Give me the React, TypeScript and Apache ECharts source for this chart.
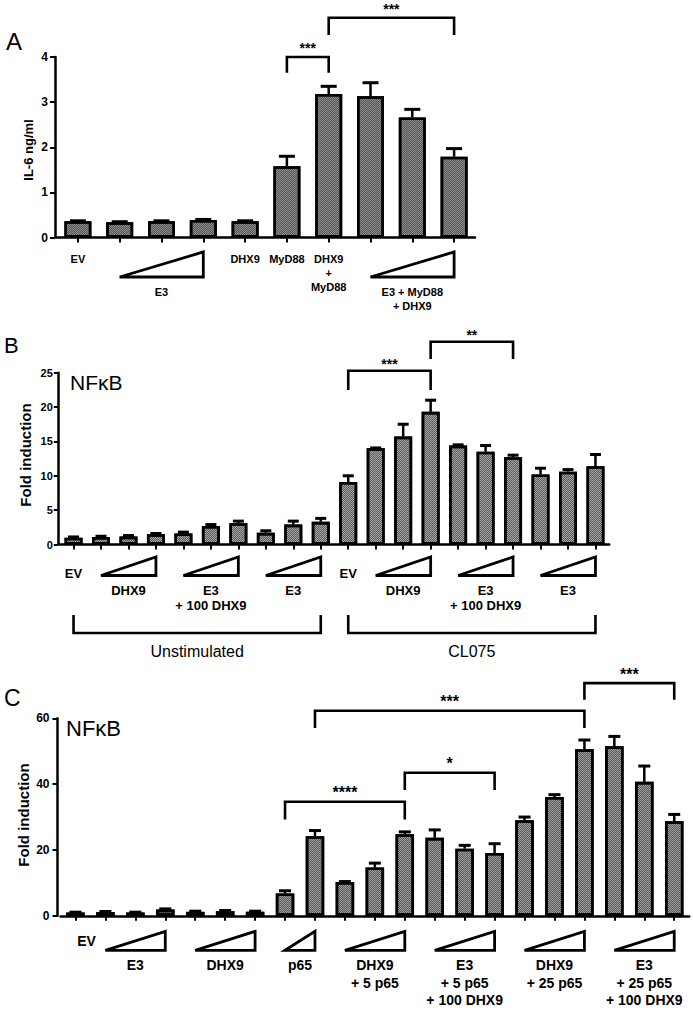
import React, { useEffect, useRef } from "react";
import * as echarts from "echarts";

const FONT = '"Liberation Sans", Arial, Helvetica, sans-serif';

type Group = { label: string[]; from: number; to: number };
type Bracket = { from: number; to: number; stars: string };

// ---------- Panel A : IL-6 ----------
const aCategories = [
  "EV", "E3 low", "E3 mid", "E3 high", "DHX9", "MyD88", "DHX9 + MyD88",
  "E3 low + MyD88 + DHX9", "E3 mid + MyD88 + DHX9", "E3 high + MyD88 + DHX9",
];
const aValues = [0.36, 0.34, 0.36, 0.39, 0.36, 1.58, 3.18, 3.13, 2.66, 1.79];
const aErrTop = [0.37, 0.35, 0.37, 0.4, 0.37, 1.8, 3.35, 3.43, 2.84, 1.97];
const aYTicks = [0, 1, 2, 3, 4];
const aGroups: Group[] = [
  { label: ["EV"], from: 0, to: 0 },
  { label: ["E3"], from: 1, to: 3 },
  { label: ["DHX9"], from: 4, to: 4 },
  { label: ["MyD88"], from: 5, to: 5 },
  { label: ["DHX9", "+", "MyD88"], from: 6, to: 6 },
  { label: ["E3 + MyD88", "+ DHX9"], from: 7, to: 9 },
];
const aBrackets: Bracket[] = [
  { from: 5, to: 6, stars: "***" },
  { from: 6, to: 9, stars: "***" },
];

// ---------- Panel B : NFkB, CL075 ----------
const bCategories = [
  "EV", "DHX9 1", "DHX9 2", "DHX9 3", "E3+DHX9 1", "E3+DHX9 2", "E3+DHX9 3", "E3 1", "E3 2", "E3 3",
  "CL EV", "CL DHX9 1", "CL DHX9 2", "CL DHX9 3", "CL E3+DHX9 1", "CL E3+DHX9 2", "CL E3+DHX9 3",
  "CL E3 1", "CL E3 2", "CL E3 3",
];
const bValues = [1.0, 1.1, 1.15, 1.5, 1.6, 2.7, 3.1, 1.7, 2.9, 3.3, 9.1, 14.0, 15.7, 19.3, 14.4, 13.5, 12.7, 10.2, 10.6, 11.4];
const bErrTop = [1.1, 1.2, 1.3, 1.6, 1.8, 2.9, 3.4, 2.0, 3.4, 3.8, 10.0, 14.05, 17.5, 21.0, 14.5, 14.4, 13.0, 11.1, 10.9, 13.1];
const bYTicks = [0, 5, 10, 15, 20, 25];
const bGroups: Group[] = [
  { label: ["EV"], from: 0, to: 0 },
  { label: ["DHX9"], from: 1, to: 3 },
  { label: ["E3", "+ 100 DHX9"], from: 4, to: 6 },
  { label: ["E3"], from: 7, to: 9 },
  { label: ["EV"], from: 10, to: 10 },
  { label: ["DHX9"], from: 11, to: 13 },
  { label: ["E3", "+ 100 DHX9"], from: 14, to: 16 },
  { label: ["E3"], from: 17, to: 19 },
];
const bBigGroups: Group[] = [
  { label: ["Unstimulated"], from: 0, to: 9 },
  { label: ["CL075"], from: 10, to: 19 },
];
const bBrackets: Bracket[] = [
  { from: 10, to: 13, stars: "***" },
  { from: 13, to: 16, stars: "**" },
];

// ---------- Panel C : NFkB, p65 ----------
const cCategories = [
  "EV", "E3 1", "E3 2", "E3 3", "DHX9 1", "DHX9 2", "DHX9 3", "p65 5", "p65 25",
  "DHX9+5p65 1", "DHX9+5p65 2", "DHX9+5p65 3", "E3+5p65+DHX9 1", "E3+5p65+DHX9 2", "E3+5p65+DHX9 3",
  "DHX9+25p65 1", "DHX9+25p65 2", "DHX9+25p65 3", "E3+25p65+DHX9 1", "E3+25p65+DHX9 2", "E3+25p65+DHX9 3",
];
const cValues = [1.0, 1.1, 1.0, 1.9, 1.2, 1.4, 1.2, 6.8, 24.2, 10.3, 14.7, 24.8, 23.7, 20.4, 19.1, 29.0, 36.1, 50.6, 51.5, 40.7, 28.7];
const cErrTop = [1.1, 1.3, 1.1, 2.1, 1.4, 1.6, 1.4, 7.6, 25.9, 10.4, 16.0, 25.5, 26.1, 21.4, 21.9, 30.0, 36.8, 53.4, 54.5, 45.5, 30.8];
const cYTicks = [0, 20, 40, 60];
const cGroups: Group[] = [
  { label: ["EV"], from: 0, to: 0 },
  { label: ["E3"], from: 1, to: 3 },
  { label: ["DHX9"], from: 4, to: 6 },
  { label: ["p65"], from: 7, to: 8 },
  { label: ["DHX9", "+ 5 p65"], from: 9, to: 11 },
  { label: ["E3", "+ 5 p65", "+ 100 DHX9"], from: 12, to: 14 },
  { label: ["DHX9", "+ 25 p65"], from: 15, to: 17 },
  { label: ["E3", "+ 25 p65", "+ 100 DHX9"], from: 18, to: 20 },
];
const cBrackets: Bracket[] = [
  { from: 7, to: 11, stars: "****" },
  { from: 11, to: 14, stars: "*" },
  { from: 8, to: 17, stars: "***" },
  { from: 17, to: 20, stars: "***" },
];

// ---------- layout (positions / styles) ----------
type Layout = {
  left: number; top: number; width: number; height: number; yOffset: number;
  barWidth: number; barColor: string; dotColor: string; cap: number;
  tickFont: number; tickMargin: number; tickLen: number;
  labelFont: number; singleY: number; singleDx: number; triTop: number; triBot: number;
  triLabelY: number; lineGap: number;
  bracketTop: number[]; bracketLeg: number[]; starFont: number; starGap: number;
  bigLegTop?: number; bigLegBot?: number; bigLabelY?: number;
};

const aLayout: Layout = {
  left: 57, top: 57, width: 418, height: 180.5, yOffset: 2,
  barWidth: 27, barColor: "#8c8c8c", dotColor: "rgba(40,40,40,0.55)", cap: 8,
  tickFont: 12, tickMargin: 7, tickLen: 5,
  labelFont: 11, singleY: 21.5, singleDx: 0, triTop: 14.5, triBot: 39.5, triLabelY: 54.5, lineGap: 14,
  bracketTop: [4.0, 4.87], bracketLeg: [3.65, 4.49], starFont: 14, starGap: 9,
};
const bLayout: Layout = {
  left: 59.8, top: 372.7, width: 549.4, height: 171.8, yOffset: 2,
  barWidth: 18, barColor: "#a6a6a6", dotColor: "rgba(40,40,40,0.6)", cap: 5.5,
  tickFont: 11, tickMargin: 5, tickLen: 4,
  labelFont: 13, singleY: 28.5, singleDx: 0, triTop: 12.5, triBot: 31, triLabelY: 45.5, lineGap: 15,
  bracketTop: [25.29, 29.51], bracketLeg: [22.48, 27.0], starFont: 14, starGap: 7,
  bigLegTop: 70.5, bigLegBot: 88.5, bigLabelY: 106.5,
};
const cLayout: Layout = {
  left: 60.5, top: 718.3, width: 628.7, height: 197.5, yOffset: 3,
  barWidth: 18.5, barColor: "#a0a0a0", dotColor: "rgba(40,40,40,0.6)", cap: 6,
  tickFont: 12, tickMargin: 8, tickLen: 5,
  labelFont: 14, singleY: 25.5, singleDx: 11, triTop: 15.5, triBot: 34.5, triLabelY: 49.5, lineGap: 17.5,
  bracketTop: [34.66, 43.47, 62.3, 70.7], bracketLeg: [29.26, 38.2, 57.05, 65.6], starFont: 16, starGap: 9,
};

function txt(text: string, x: number, y: number, font: string, align = "center") {
  return {
    type: "text",
    style: {
      text, x, y, font, fill: "#000",
      align, textAlign: align, verticalAlign: "middle", textVerticalAlign: "middle",
    },
  };
}

function buildPanel(
  idx: number, categories: string[], values: number[], errTop: number[], yTicks: number[],
  groups: Group[], brackets: Bracket[], bigGroups: Group[] | null, L: Layout
) {
  const grid = { left: L.left, top: L.top, width: L.width, height: L.height, containLabel: false };
  const xAxis = {
    gridIndex: idx, type: "category", data: categories,
    axisLine: { show: true, lineStyle: { color: "#000", width: 2.5 } },
    axisTick: { show: true, alignWithLabel: true, interval: 0, length: 5, lineStyle: { color: "#000", width: 2 } },
    axisLabel: { show: false, interval: 0 },
    splitLine: { show: false },
  };
  const yAxis = {
    gridIndex: idx, type: "value",
    min: yTicks[0], max: yTicks[yTicks.length - 1], interval: yTicks[1] - yTicks[0],
    offset: L.yOffset,
    axisLine: { show: true, lineStyle: { color: "#000", width: 2.5 } },
    axisTick: { show: true, length: L.tickLen, lineStyle: { color: "#000", width: 2 } },
    axisLabel: { color: "#000", fontWeight: "bold", fontSize: L.tickFont, fontFamily: FONT, margin: L.tickMargin },
    splitLine: { show: false },
  };
  const series: any[] = [];
  series.push({
    type: "bar", xAxisIndex: idx, yAxisIndex: idx, data: values, barWidth: L.barWidth,
    itemStyle: {
      color: L.barColor, borderColor: "#000", borderWidth: 2.6,
      decal: {
        symbol: "rect", symbolSize: 1, color: L.dotColor,
        dashArrayX: [[1, 1], [0, 1, 1, 0]], dashArrayY: [1, 0], rotation: 0,
      },
    },
    silent: true, z: 2,
  });
  series.push({
    type: "custom", xAxisIndex: idx, yAxisIndex: idx, silent: true, z: 4,
    data: values.map((v, i) => [i, v, errTop[i]]),
    renderItem: (params: any, api: any) => {
      const i = api.value(0), v = api.value(1), e = api.value(2);
      const p0 = api.coord([i, v]);
      const p1 = api.coord([i, e]);
      return {
        type: "group",
        children: [
          { type: "line", shape: { x1: p0[0], y1: p0[1], x2: p1[0], y2: p1[1] }, style: { stroke: "#000", lineWidth: 2.5 } },
          { type: "line", shape: { x1: p1[0] - L.cap, y1: p1[1], x2: p1[0] + L.cap, y2: p1[1] }, style: { stroke: "#000", lineWidth: 3 } },
        ],
      };
    },
  });
  series.push({
    type: "custom", xAxisIndex: idx, yAxisIndex: idx, silent: true, z: 5,
    data: brackets.map((b, k) => [b.from, b.to, L.bracketTop[k], L.bracketLeg[k]]),
    renderItem: (params: any, api: any) => {
      const b = brackets[params.dataIndex];
      const top = api.value(2), leg = api.value(3);
      const a = api.coord([b.from, top]);
      const c = api.coord([b.to, top]);
      const l = api.coord([b.from, leg]);
      return {
        type: "group",
        children: [
          {
            type: "polyline",
            shape: { points: [[a[0], l[1]], [a[0], a[1]], [c[0], c[1]], [c[0], l[1]]] },
            style: { stroke: "#000", fill: null, lineWidth: 2.6 },
          },
          txt(b.stars, (a[0] + c[0]) / 2, a[1] - L.starGap, `bold ${L.starFont}px ${FONT}`),
        ],
      };
    },
  });
  series.push({
    type: "custom", xAxisIndex: idx, yAxisIndex: idx, silent: true, z: 5,
    data: groups.map((g) => [g.from, g.to]),
    renderItem: (params: any, api: any) => {
      const g = groups[params.dataIndex];
      const pa = api.coord([g.from, 0]);
      const pb = api.coord([g.to, 0]);
      const y0 = pa[1];
      const single = g.from === g.to;
      const children: any[] = [];
      if (!single) {
        children.push({
          type: "polygon",
          shape: { points: [[pa[0], y0 + L.triBot], [pb[0], y0 + L.triTop], [pb[0], y0 + L.triBot]] },
          style: { fill: "#fff", stroke: "#000", lineWidth: 2.8, lineJoin: "miter" },
        });
      }
      const cx = (pa[0] + pb[0]) / 2 + (single ? L.singleDx : 0);
      const ly = y0 + (single ? L.singleY : L.triLabelY);
      g.label.forEach((t, j) => {
        children.push(txt(t, cx, ly + j * L.lineGap, `bold ${L.labelFont}px ${FONT}`));
      });
      return { type: "group", children };
    },
  });
  if (bigGroups) {
    series.push({
      type: "custom", xAxisIndex: idx, yAxisIndex: idx, silent: true, z: 5,
      data: bigGroups.map((g) => [g.from, g.to]),
      renderItem: (params: any, api: any) => {
        const g = bigGroups[params.dataIndex];
        const pa = api.coord([g.from, 0]);
        const pb = api.coord([g.to, 0]);
        const y0 = pa[1];
        return {
          type: "group",
          children: [
            {
              type: "polyline",
              shape: {
                points: [
                  [pa[0], y0 + (L.bigLegTop as number)], [pa[0], y0 + (L.bigLegBot as number)],
                  [pb[0], y0 + (L.bigLegBot as number)], [pb[0], y0 + (L.bigLegTop as number)],
                ],
              },
              style: { stroke: "#000", fill: null, lineWidth: 2.6 },
            },
            txt(g.label[0], (pa[0] + pb[0]) / 2, y0 + (L.bigLabelY as number), `16px ${FONT}`),
          ],
        };
      },
    });
  }
  return { grid, xAxis, yAxis, series };
}

export default function App() {
  const ref = useRef<HTMLDivElement>(null);
  useEffect(() => {
    if (!ref.current) return;
    const chart = echarts.init(ref.current, null, { renderer: "svg" });
    const pA = buildPanel(0, aCategories, aValues, aErrTop, aYTicks, aGroups, aBrackets, null, aLayout);
    const pB = buildPanel(1, bCategories, bValues, bErrTop, bYTicks, bGroups, bBrackets, bBigGroups, bLayout);
    const pC = buildPanel(2, cCategories, cValues, cErrTop, cYTicks, cGroups, cBrackets, null, cLayout);
    const gtext = (text: string, x: number, y: number, font: string, rotation = 0, align = "left") => ({
      type: "text", x, y, rotation, silent: true,
      style: { text, font, fill: "#000", align, textAlign: align, verticalAlign: "middle", textVerticalAlign: "middle" },
    });
    chart.setOption({
      animation: false,
      backgroundColor: "#fff",
      grid: [pA.grid, pB.grid, pC.grid],
      xAxis: [pA.xAxis, pB.xAxis, pC.xAxis],
      yAxis: [pA.yAxis, pB.yAxis, pC.yAxis],
      series: [...pA.series, ...pB.series, ...pC.series],
      graphic: [
        gtext("A", 6, 41, `24px ${FONT}`),
        gtext("B", 4, 345, `22px ${FONT}`),
        gtext("C", 4, 698, `23px ${FONT}`),
        gtext("NFκB", 70, 382, `21px ${FONT}`),
        gtext("NFκB", 66, 728, `22px ${FONT}`),
        gtext("IL-6 ng/ml", 28, 150, `bold 13px ${FONT}`, Math.PI / 2, "center"),
        gtext("Fold induction", 25, 455, `bold 15px ${FONT}`, Math.PI / 2, "center"),
        gtext("Fold induction", 23, 815, `bold 15px ${FONT}`, Math.PI / 2, "center"),
      ],
    });
    return () => chart.dispose();
  }, []);
  return (
    <div
      ref={ref}
      style={{ position: "absolute", left: 0, top: 0, width: 693, height: 1010, background: "#fff" }}
    />
  );
}
